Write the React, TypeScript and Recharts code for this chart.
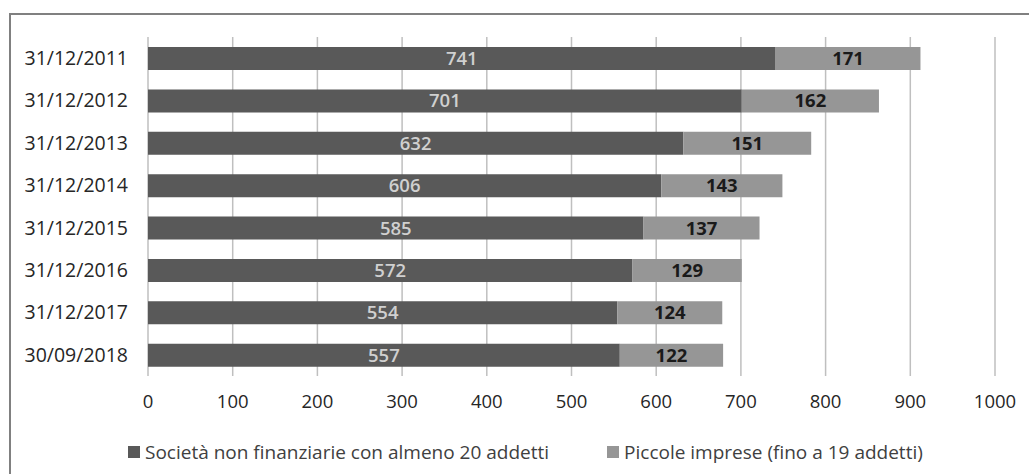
import React from "react";
import { BarChart, Bar, XAxis, YAxis, CartesianGrid, Legend, LabelList } from "recharts";

const categories = ["31/12/2011", "31/12/2012", "31/12/2013", "31/12/2014", "31/12/2015", "31/12/2016", "31/12/2017", "30/09/2018"];
const grandi = [741, 701, 632, 606, 585, 572, 554, 557];
const piccole = [171, 162, 151, 143, 137, 129, 124, 122];
const xTicks = [0, 100, 200, 300, 400, 500, 600, 700, 800, 900, 1000];
const seriesNames = ["Società non finanziarie con almeno 20 addetti", "Piccole imprese (fino a 19 addetti)"];

const data = categories.map((c, i) => ({ cat: c, grandi: grandi[i], piccole: piccole[i] }));

const FONT = "'Open Sans', sans-serif";

const LegendContent = (props: any) => {
  const payload = [...(props.payload || [])].sort(
    (a: any, b: any) => seriesNames.indexOf(a.value) - seriesNames.indexOf(b.value)
  );
  return (
    <div style={{ height: 24, display: "flex", justifyContent: "flex-start", paddingLeft: 128, alignItems: "center", fontFamily: FONT, fontSize: 19, color: "#404040", lineHeight: "24px" }}>
      {payload.map((p: any, i: number) => (
        <div key={i} style={{ display: "flex", alignItems: "center", marginLeft: i === 0 ? 0 : 58 }}>
          <span style={{ display: "inline-block", width: 12, height: 12, background: p.color, marginRight: 5 }} />
          <span>{p.value}</span>
        </div>
      ))}
    </div>
  );
};

export default function App() {
  return (
    <div>
      <div style={{ position: "absolute", left: 9, top: 13, width: 1040, height: 480, border: "2px solid #808080", boxSizing: "border-box" }} />
      <div style={{ position: "absolute", left: 0, top: 0 }}>
        <BarChart width={1029} height={474} data={data} layout="vertical" margin={{ top: 37, right: 34, bottom: 10, left: 0 }} barSize={23}>
          <CartesianGrid horizontal={false} stroke="#bfbfbf" strokeWidth={1.5} />
          <XAxis type="number" domain={[0, 1000]} ticks={xTicks} axisLine={false} tickLine={false} tickSize={0} tickMargin={19} height={64} tick={{ fill: "#262626", fontSize: 18.5, fontFamily: FONT }} interval={0} />
          <YAxis type="category" dataKey="cat" width={148} axisLine={false} tickLine={false} tickSize={0} tickMargin={20} tick={{ fill: "#262626", fontSize: 19.5, fontFamily: FONT }} />
          <Legend verticalAlign="bottom" content={<LegendContent />} />
          <Bar dataKey="grandi" name={seriesNames[0]} stackId="a" fill="#595959" isAnimationActive={false}>
            <LabelList dataKey="grandi" position="center" fill="#d0d0d0" fontSize={18.5} fontWeight={600} fontFamily={FONT} />
          </Bar>
          <Bar dataKey="piccole" name={seriesNames[1]} stackId="a" fill="#969696" isAnimationActive={false}>
            <LabelList dataKey="piccole" position="center" fill="#1a1a1a" fontSize={18.5} fontWeight={700} fontFamily={FONT} />
          </Bar>
        </BarChart>
      </div>
    </div>
  );
}
